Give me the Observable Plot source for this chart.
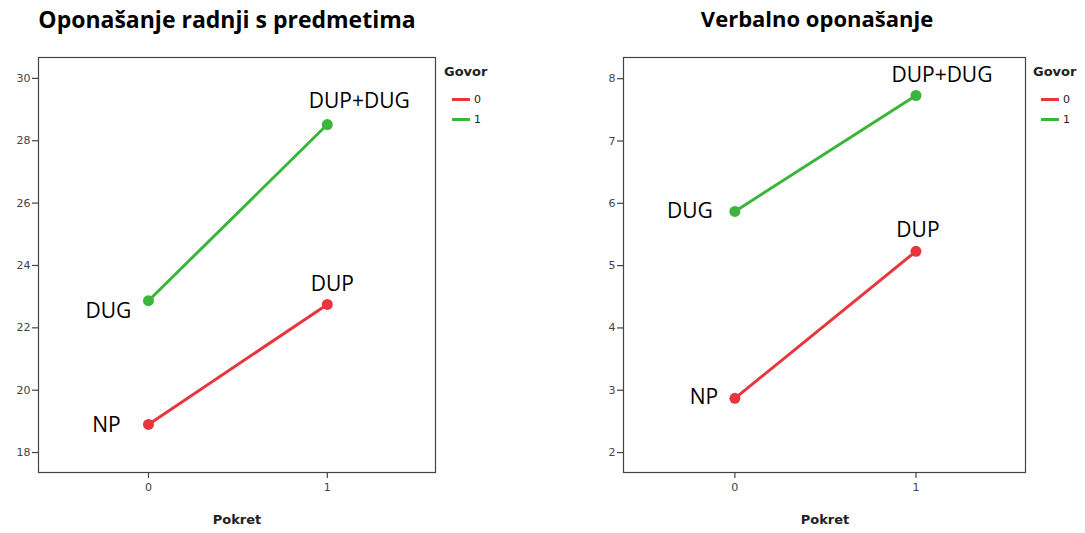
<!DOCTYPE html>
<html>
<head>
<meta charset="utf-8">
<script src="https://cdn.jsdelivr.net/npm/d3@7"></script>
<script src="https://cdn.jsdelivr.net/npm/@observablehq/plot@0.6"></script>
<style>
  html, body { margin: 0; padding: 0; background: #fff; width: 1085px; height: 533px; overflow: hidden; }
  #root { position: relative; width: 1085px; height: 533px; }
  .title { position: absolute; font-family: "Open Sans", sans-serif; font-weight: 700; font-size: 22px; color: #000; white-space: nowrap; transform: translateX(-50%); top: 3px; }
  .plotbox { position: absolute; top: 40px; }
  .xlabel { position: absolute; font-family: "DejaVu Sans", sans-serif; font-weight: 700; font-size: 13px; color: #222; transform: translateX(-50%); top: 512px; }
  .legend { position: absolute; top: 64px; font-family: "DejaVu Sans", sans-serif; color: #222; }
  .legend .lt { font-weight: 700; font-size: 13px; margin-bottom: 10px; }
  .legend .row { display: flex; align-items: center; font-size: 11px; height: 20px; margin-left: 8px; }
  .legend .sw { width: 18px; height: 3px; margin-right: 4px; }
</style>
</head>
<body>
<div id="root"></div>
<script>
// ---- data ----
const pokret = [0, 1];
const govorLevels = ["0", "1"];
const colors = ["#e8363c", "#3bb53b"];

// Chart 1: Oponašanje radnji s predmetima
const title1 = "Oponašanje radnji s predmetima";
const govor0_left = [18.9, 22.75];   // NP, DUP
const govor1_left = [22.87, 28.52];  // DUG, DUP+DUG
const yTicks_left = [18, 20, 22, 24, 26, 28, 30];

// Chart 2: Verbalno oponašanje
const title2 = "Verbalno oponašanje";
const govor0_right = [2.87, 5.23];   // NP, DUP
const govor1_right = [5.87, 7.73];   // DUG, DUP+DUG
const yTicks_right = [2, 3, 4, 5, 6, 7, 8];

const labels0 = ["NP", "DUP"];
const labels1 = ["DUG", "DUP+DUG"];
const xTicks = [0, 1];
const xLabel = "Pokret";
const legendTitle = "Govor";

const root = document.getElementById("root");

function makeChart(opts) {
  const rows = [];
  pokret.forEach((p, i) => {
    rows.push({pokret: p, govor: "0", value: opts.g0[i], label: labels0[i]});
    rows.push({pokret: p, govor: "1", value: opts.g1[i], label: labels1[i]});
  });
  const off = opts.offsets;
  const fmt = d => String(d);
  const chart = Plot.plot({
    width: opts.width,
    height: 490,
    marginLeft: 38,
    marginRight: 5,
    marginTop: 17,
    marginBottom: 58,
    style: {background: "transparent", overflow: "visible"},
    x: {domain: opts.xDomain, ticks: xTicks, tickFormat: fmt, label: null},
    y: {domain: opts.yDomain, ticks: opts.yTicks, tickFormat: fmt, label: null},
    color: {domain: govorLevels, range: colors},
    marks: [
      Plot.frame({stroke: "#444", strokeWidth: 1.2}),
      Plot.axisX({ticks: xTicks, tickSize: 6, tickPadding: 5, stroke: "#444", strokeWidth: 1.2, fill: "#444", fontSize: 11, fontFamily: "DejaVu Sans", tickFormat: fmt, label: null}),
      Plot.axisY({ticks: opts.yTicks, tickSize: 6, tickPadding: 2, stroke: "#444", strokeWidth: 1.2, fill: "#444", fontSize: 11, fontFamily: "DejaVu Sans", tickFormat: fmt, label: null}),
      Plot.line(rows, {x: "pokret", y: "value", z: "govor", stroke: "govor", strokeWidth: 3}),
      Plot.dot(rows, {x: "pokret", y: "value", fill: "govor", r: 5.5}),
      ...rows.map(r => {
        const o = off[r.label];
        return Plot.text([r], {x: "pokret", y: "value", text: "label", dx: o[0], dy: o[1], fontSize: 21, fontFamily: "Open Sans", fill: "#000"});
      })
    ]
  });
  const box = document.createElement("div");
  box.className = "plotbox";
  box.style.left = opts.left + "px";
  box.appendChild(chart);
  root.appendChild(box);

  const t = document.createElement("div");
  t.className = "title";
  t.style.left = opts.titleX + "px";
  t.style.fontSize = opts.titleSize + "px";
  t.textContent = opts.title;
  root.appendChild(t);

  const xl = document.createElement("div");
  xl.className = "xlabel";
  xl.style.left = opts.xLabelX + "px";
  xl.textContent = xLabel;
  root.appendChild(xl);

  const lg = document.createElement("div");
  lg.className = "legend";
  lg.style.left = opts.legendX + "px";
  let html = `<div class="lt">${legendTitle}</div>`;
  govorLevels.forEach((g, i) => {
    html += `<div class="row"><div class="sw" style="background:${colors[i]}"></div>${g}</div>`;
  });
  lg.innerHTML = html;
  root.appendChild(lg);
}

makeChart({
  title: title1, titleX: 227, titleSize: 23, left: 0, width: 440,
  xDomain: [-0.615, 1.605], yDomain: [17.36, 30.67], yTicks: yTicks_left,
  g0: govor0_left, g1: govor1_left,
  offsets: {"NP": [-42, 1], "DUP": [5, -20], "DUG": [-40, 11], "DUP+DUG": [32, -23]},
  xLabelX: 237, legendX: 444
});

makeChart({
  title: title2, titleX: 817, titleSize: 22, left: 585, width: 445,
  xDomain: [-0.615, 1.605], yDomain: [1.68, 8.34], yTicks: yTicks_right,
  g0: govor0_right, g1: govor1_right,
  offsets: {"NP": [-31, -1], "DUP": [2, -21], "DUG": [-45, 0], "DUP+DUG": [26, -20]},
  xLabelX: 825, legendX: 1033
});
</script>
</body>
</html>
